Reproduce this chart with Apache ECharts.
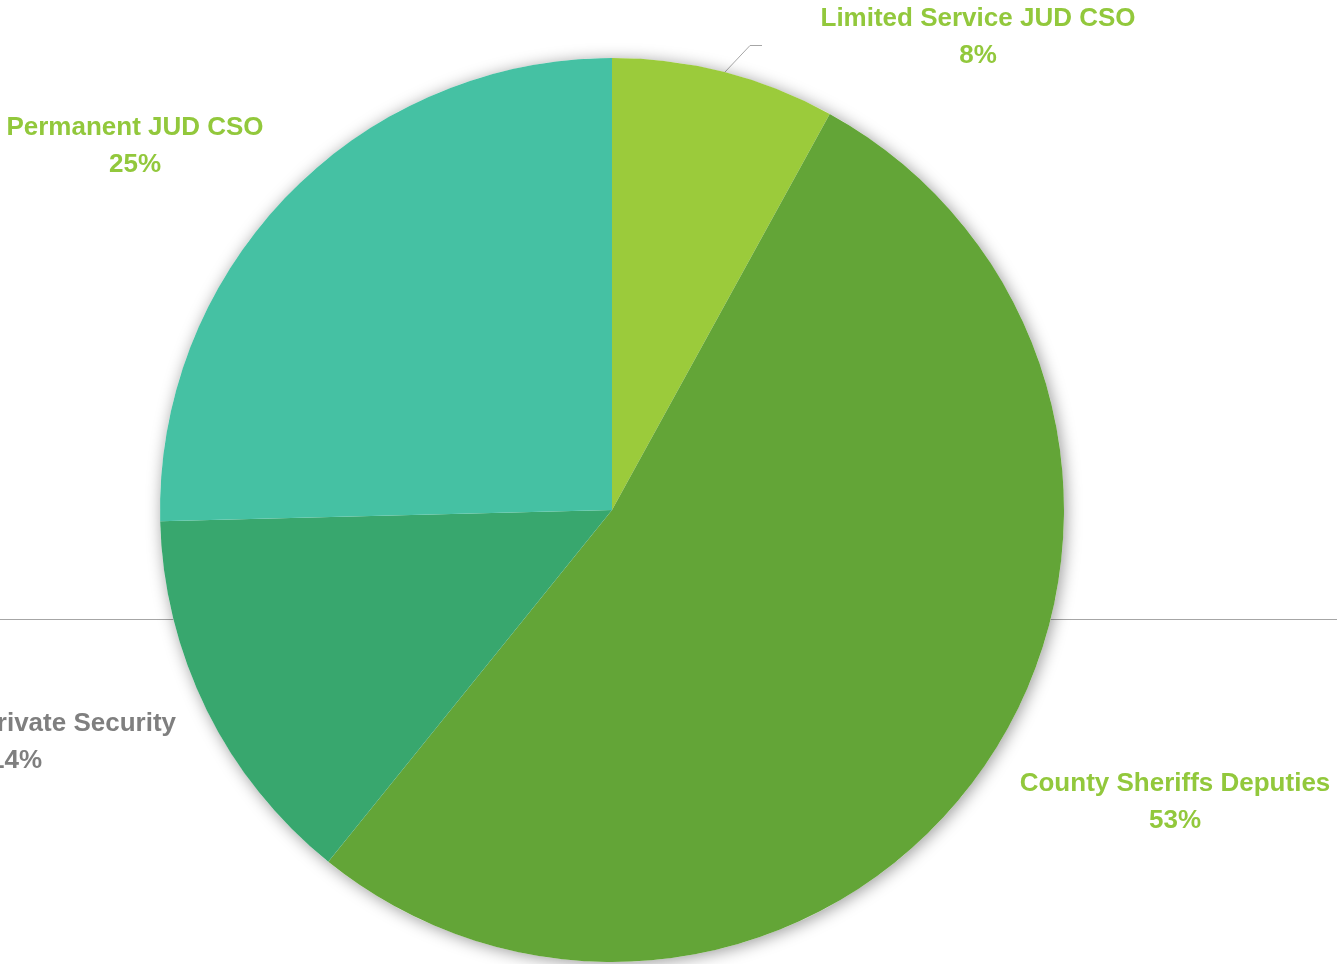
<!DOCTYPE html>
<html>
<head>
<meta charset="utf-8">
<script src="https://cdn.jsdelivr.net/npm/echarts@6/dist/echarts.min.js"></script>
<style>
  html, body { margin: 0; padding: 0; background: #fff; }
  #chart { width: 1337px; height: 964px; }
</style>
</head>
<body>
<div id="chart"></div>
<script>
const categories = ['Limited Service JUD CSO', 'County Sheriffs Deputies', 'Private Security', 'Permanent JUD CSO'];
const values = [8.0, 52.8, 13.8, 25.4];
const percentLabels = ['8%', '53%', '14%', '25%'];

const sliceColors = ['#9BCB3B', '#63A537', '#38A76E', '#45C1A3'];
const labelColors = ['#92C83C', '#92C83C', '#7F7F7F', '#92C83C'];
// where each label sits (px)
const labelSpots = [
  { x: 978, y: 37, align: 'center' },
  { x: 1175, y: 802, align: 'center' },
  { x: 176, y: 742, align: 'right' },
  { x: 135, y: 146, align: 'center' },
];

const font = { fontFamily: '"Liberation Sans", Arial, sans-serif', fontWeight: 'bold', fontSize: 26, lineHeight: 37 };

const chart = echarts.init(document.getElementById('chart'));
const total = values.reduce((a, b) => a + b, 0);

chart.setOption({
  animation: false,
  graphic: [
    { type: 'line', z: 0, shape: { x1: 0, y1: 619.5, x2: 1337, y2: 619.5 }, style: { stroke: '#A6A6A6', lineWidth: 1 } },
    { type: 'polyline', z: 0, shape: { points: [[725, 72], [750, 45.5], [762, 45.5]] }, style: { stroke: '#A6A6A6', fill: null, lineWidth: 1 } },
  ],
  series: [
    {
      // soft shadow behind the whole pie
      type: 'pie',
      z: 1,
      silent: true,
      center: [612, 510],
      radius: 452,
      label: { show: false },
      labelLine: { show: false },
      itemStyle: { color: '#fff', shadowBlur: 16, shadowColor: 'rgba(0,0,0,0.4)', shadowOffsetX: 2, shadowOffsetY: 2 },
      data: [{ value: total, name: 'all' }],
    },
    {
      type: 'pie',
      z: 2,
      center: [612, 510],
      radius: 452,
      startAngle: 90,
      clockwise: true,
      labelLine: { show: false },
      label: { overflow: 'none' },
      labelLayout: (p) => {
        const s = labelSpots[p.dataIndex];
        return { x: s.x, y: s.y, align: s.align, verticalAlign: 'middle' };
      },
      data: categories.map((name, i) => ({
        name,
        value: values[i],
        itemStyle: { color: sliceColors[i] },
        label: {
          show: true,
          overflow: 'none',
          width: null,
          color: labelColors[i],
          ...font,
          formatter: `{n|${name}}\n{p|${percentLabels[i]}}`,
          rich: {
            n: { color: labelColors[i], ...font },
            p: { color: labelColors[i], ...font, padding: i === 2 ? [0, 134, 0, 0] : 0 },
          },
        },
      })),
    },
  ],
});
</script>
</body>
</html>
